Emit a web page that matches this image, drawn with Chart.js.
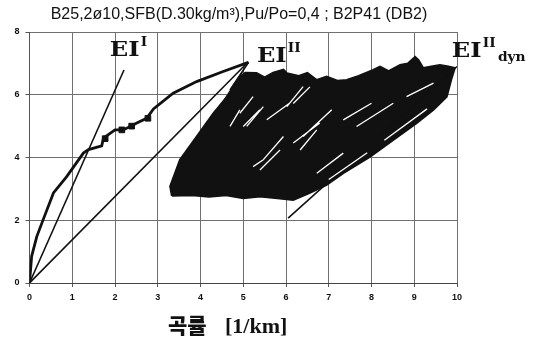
<!DOCTYPE html>
<html lang="ko">
<head>
<meta charset="UTF-8">
<title>B2P41 (DB2)</title>
<script src="https://cdn.jsdelivr.net/npm/chart.js@4"></script>
<style>
  html, body { margin: 0; padding: 0; background: #fff; }
  #wrap { width: 533px; height: 342px; }
</style>
</head>
<body>
<div id="wrap"><canvas id="curv" width="533" height="342"></canvas></div>
<script>
// axis ticks
const xTicks = [0, 1, 2, 3, 4, 5, 6, 7, 8, 9, 10];
const yTicks = [0, 2, 4, 6, 8];

const titleText = 'B25,2\u00f810,SFB(D.30kg/m\u00b3),Pu/Po=0,4 ; B2P41 (DB2)';
const xTitleKo = '곡률';
const xTitleUnit = '[1/km]';

// monotonic loading curve (curvature 1/km, moment)
const loadX = [0, 0.05, 0.17, 0.32, 0.56, 0.87, 1.26, 1.38, 1.69, 1.73, 2.0, 2.19, 2.39, 2.51, 2.74, 2.9, 3.36, 3.91, 4.53, 5.12];
const loadY = [0, 0.85, 1.48, 2.02, 2.87, 3.39, 4.14, 4.25, 4.37, 4.62, 4.88, 4.88, 5.01, 5.1, 5.25, 5.55, 6.05, 6.42, 6.74, 7.03];

// square marks on the loading curve
const markX = [1.77, 2.16, 2.39, 2.77];
const markY = [4.6, 4.88, 5.0, 5.25];

// stiffness lines
const eiIX = [0, 2.21];
const eiIY = [0, 6.79];
const eiIIX = [0, 5.12];
const eiIIY = [0, 7.05];
const eiDynX = [6.05, 10.0];
const eiDynY = [2.07, 6.9];

// envelope of the cyclic loops
const cycX = [3.33, 3.29, 3.52, 3.91, 4.3, 4.69, 4.92, 5.05, 5.31, 5.5, 5.7, 5.94, 6.02, 6.3, 6.5, 6.72, 6.95, 7.2, 7.42, 7.7, 8.04, 8.2, 8.4, 8.67, 8.85, 9.02, 9.1, 9.21, 9.4, 9.6, 9.8, 9.95, 9.87, 9.76, 9.45, 9.06, 8.51, 7.97, 7.34, 6.95, 6.56, 6.17, 5.8, 5.39, 5.0, 4.6, 4.2, 3.8, 3.33];
const cycY = [2.78, 3.08, 3.93, 4.67, 5.41, 6.05, 6.58, 6.7, 6.69, 6.55, 6.7, 6.8, 6.69, 6.6, 6.7, 6.47, 6.58, 6.45, 6.47, 6.6, 6.79, 6.9, 6.75, 6.95, 7.0, 7.21, 7.1, 6.85, 6.9, 6.95, 6.9, 6.85, 6.5, 5.94, 5.52, 5.1, 4.56, 4.03, 3.5, 3.13, 2.87, 2.65, 2.7, 2.76, 2.7, 2.8, 2.75, 2.8, 2.78];

// loop tips running up to the EI-II point
const tipX1 = [4.46, 4.69];
const tipY1 = [5.62, 6.15];
const tipX2 = [5.12, 5.12];
const tipY2 = [7.03, 7.03];

// open gaps between loops
const gapX1 = [5.23, 5.47, 5.47, 5.39, 6.4, 6.72, 5.94, 6.56, 7.07, 5.86, 8.0, 7.0, 8.3, 6.09, 8.51, 9.45, 7.34, 6.79, 4.92];
const gapY1 = [5.94, 5.62, 3.93, 5.52, 6.26, 4.88, 4.67, 6.25, 5.52, 4.24, 5.73, 3.3, 4.55, 5.74, 5.73, 6.37, 4.14, 5.1, 5.52];
const gapX2 = [4.92, 5.08, 5.23, 5.0, 6.02, 6.33, 5.47, 6.17, 6.4, 5.39, 7.34, 7.9, 9.3, 5.55, 7.65, 8.82, 6.72, 6.17, 4.69];
const gapY2 = [5.41, 4.99, 3.71, 4.99, 5.62, 4.24, 3.93, 5.72, 4.67, 3.6, 5.2, 4.15, 5.55, 5.2, 4.99, 5.94, 3.5, 4.46, 4.99];

const pts = (xs, ys) => xs.map((x, i) => ({ x: x, y: ys[i] }));
const segs = (x1, y1, x2, y2) => {
  const out = [];
  x1.forEach((x, i) => {
    out.push({ x: x, y: y1[i] }, { x: x2[i], y: y2[i] }, { x: x2[i], y: null });
  });
  return out;
};

const ink = '#111';
const line = (data, width, order) => ({
  data: data, borderColor: ink, borderWidth: width, pointRadius: 0,
  tension: 0, fill: false, order: order
});

// text overlay: title, axis title and EI labels
const annotate = {
  id: 'annotate',
  afterDraw(chart) {
    const ctx = chart.ctx;
    const sx = chart.scales.x, sy = chart.scales.y;
    ctx.save();
    ctx.fillStyle = ink;
    ctx.textBaseline = 'alphabetic';

    ctx.font = '16px "Liberation Sans", Arial, sans-serif';
    ctx.textAlign = 'center';
    ctx.fillText(titleText, 239, 19);

    ctx.textAlign = 'left';
    ctx.font = '900 21px "Noto Sans CJK KR", sans-serif';
    ctx.fillText(xTitleKo, 168, 333);
    ctx.font = 'bold 22px "Liberation Serif", serif';
    ctx.fillText(xTitleUnit, 225, 333);

    const ei = (vx, vy, sup, sub) => {
      const px = sx.getPixelForValue(vx), py = sy.getPixelForValue(vy);
      ctx.save();
      ctx.translate(px, py);
      ctx.scale(1.15, 1);
      ctx.font = 'bold 21px "DejaVu Serif", serif';
      ctx.fillText('EI', 0, 0);
      let w = ctx.measureText('EI').width + 1;
      ctx.font = 'bold 12px "DejaVu Serif", serif';
      ctx.fillText(sup, w, -10);
      if (sub) {
        w += ctx.measureText(sup).width + 2;
        ctx.font = 'bold 12px "DejaVu Serif", serif';
        ctx.fillText(sub, w, 4);
      }
      ctx.restore();
    };
    ei(1.88, 7.24, 'I');
    ei(5.32, 7.05, 'II');
    ei(9.88, 7.2, 'II', 'dyn');
    ctx.restore();
  }
};

const gridStyle = { color: '#6f6f6f', lineWidth: 1, tickLength: 4, tickColor: '#555' };

new Chart(document.getElementById('curv'), {
  type: 'line',
  data: {
    datasets: [
      { data: segs(gapX1, gapY1, gapX2, gapY2), borderColor: '#fff', borderWidth: 1.3,
        pointRadius: 0, tension: 0, fill: false, spanGaps: false, order: 0 },
      line(pts(loadX, loadY), 2.8, 1),
      { data: pts(markX, markY), showLine: false, pointStyle: 'rect', pointRadius: 4,
        pointBackgroundColor: ink, pointBorderColor: ink, order: 1 },
      line(pts(eiIX, eiIY), 1.6, 1),
      line(pts(eiIIX, eiIIY), 1.6, 1),
      line(pts(eiDynX, eiDynY), 1.6, 1),
      { ...line(segs(tipX1, tipY1, tipX2, tipY2), 1.6, 1), spanGaps: false },
      { data: pts(cycX, cycY), borderColor: ink, borderWidth: 2, backgroundColor: ink,
        pointRadius: 0, tension: 0, fill: 'shape', order: 2 }
    ]
  },
  options: {
    responsive: false,
    animation: false,
    events: [],
    layout: { padding: { left: 0, right: 76, top: 32, bottom: 0 } },
    plugins: { legend: { display: false }, tooltip: { enabled: false } },
    scales: {
      x: {
        type: 'linear', min: 0, max: 10,
        afterFit: s => { s.height = 59; },
        afterBuildTicks: s => { s.ticks = xTicks.map(v => ({ value: v })); },
        grid: gridStyle,
        border: { color: '#444', width: 1 },
        ticks: { padding: 5, color: ink, font: { family: 'Liberation Sans', size: 9, weight: 'bold' } }
      },
      y: {
        type: 'linear', min: 0, max: 8,
        afterFit: s => { s.width = 29.5; },
        afterBuildTicks: s => { s.ticks = yTicks.map(v => ({ value: v })); },
        grid: gridStyle,
        border: { color: '#555', width: 1 },
        ticks: { padding: 6, color: ink, font: { family: 'Liberation Sans', size: 9, weight: 'bold' } }
      }
    }
  },
  plugins: [annotate]
});
</script>
</body>
</html>
